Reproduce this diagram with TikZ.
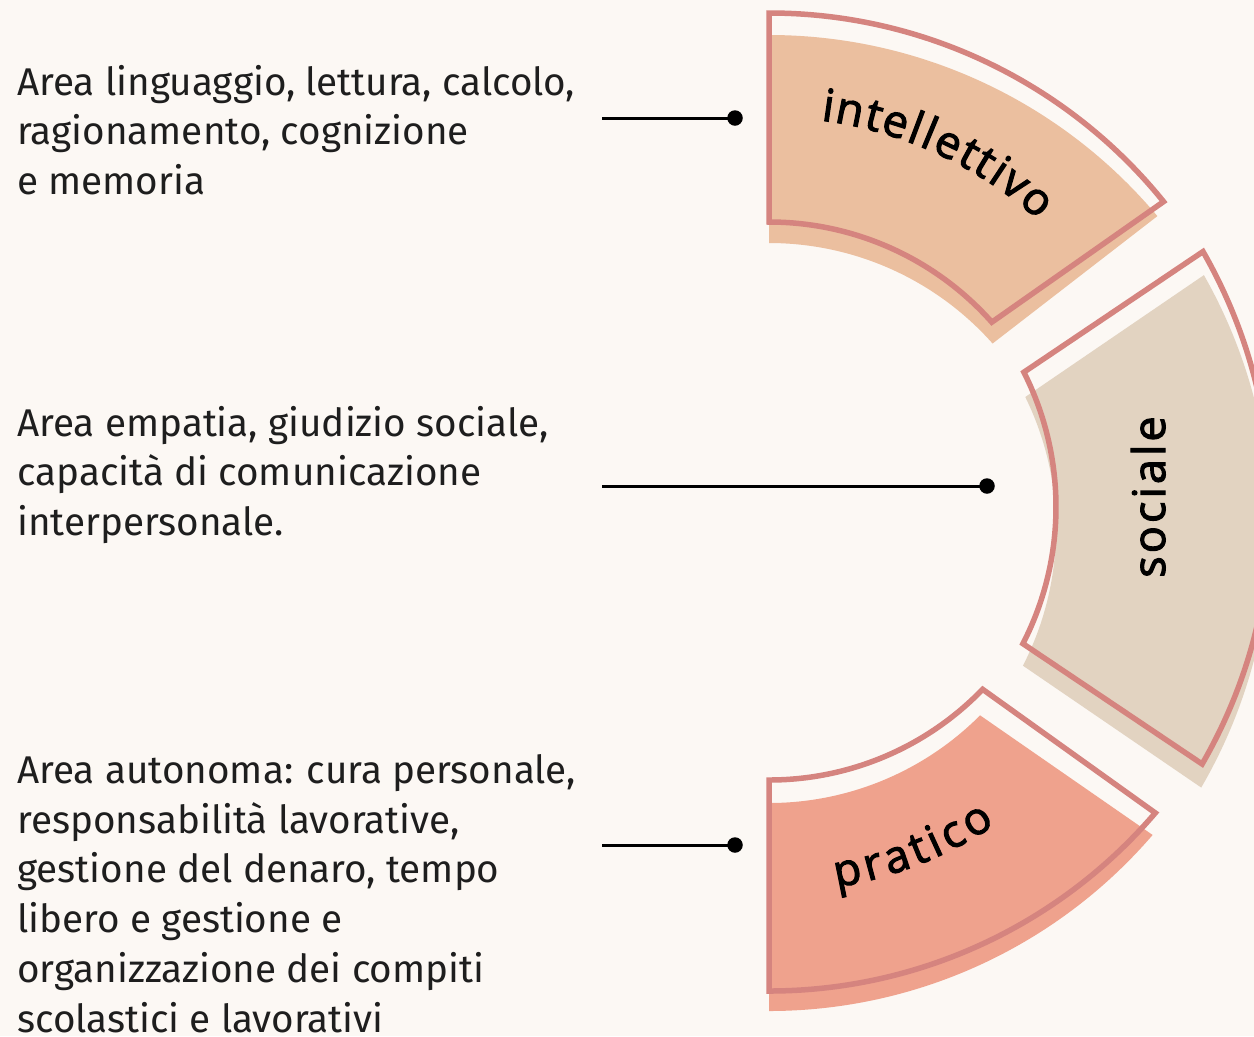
\documentclass[tikz,border=0pt]{standalone}
\usepackage{fontspec}
\setmainfont{Fira Sans}
\newfontfamily\labfont[FakeBold=2.5]{Open Sans}
\usetikzlibrary{calc}
\definecolor{bg}{HTML}{FCF8F4}
\definecolor{rose}{HTML}{D5847F}
\definecolor{intfill}{HTML}{EBBF9F}
\definecolor{socfill}{HTML}{E2D3C1}
\definecolor{prafill}{HTML}{EFA28D}
\definecolor{ink}{HTML}{1E1E1E}
\begin{document}
\begin{tikzpicture}[x=0.02cm,y=-0.02cm,
  outline/.style={draw=rose,line width=0.11cm},
  bodytext/.style={anchor=base west,inner sep=0pt,text=ink,font=\fontsize{22}{28.45}\selectfont},
  conn/.style={draw=black,line width=0.06cm},
  dotnode/.style={circle,fill=black,inner sep=0pt,minimum size=0.31cm},
  lab/.style={inner sep=0pt,anchor=base,text=black,font=\labfont\fontsize{25.5}{25.5}\selectfont}]
\fill[bg] (0,0) rectangle (1254,1036);
\useasboundingbox (0,0) rectangle (1254,1036);

% centres
\coordinate (Ic) at (769,520);
\coordinate (If) at (769,542);
\coordinate (Sc) at (757,507);
\coordinate (Sf) at (757,529);
\coordinate (Pc) at (769,483);
\coordinate (Pf) at (769,505);

% intellettivo
\fill[intfill] ($(If)+(-90:507)$) arc[start angle=-90,end angle=-40,radius=507]
  -- ($(If)+(-41.6:299)$) arc[start angle=-41.6,end angle=-90,radius=299] -- cycle;
\draw[outline] ($(Ic)+(-90:507)$) arc[start angle=-90,end angle=-38.9,radius=507]
  -- ($(Ic)+(-41.6:298)$) arc[start angle=-41.6,end angle=-90,radius=298] -- cycle;

% sociale
\fill[socfill] ($(Sf)+(-29.6:514)$) arc[start angle=-29.6,end angle=30.2,radius=514]
  -- ($(Sf)+(27.2:299)$) arc[start angle=27.2,end angle=-26.2,radius=299] -- cycle;
\draw[outline] ($(Sc)+(-29.8:514)$) arc[start angle=-29.8,end angle=30.0,radius=514]
  -- ($(Sc)+(27.2:299)$) arc[start angle=27.2,end angle=-26.8,radius=299] -- cycle;

% pratico
\fill[prafill] ($(Pf)+(90:298)$) arc[start angle=90,end angle=44.9,radius=298]
  -- ($(Pf)+(40.7:506)$) arc[start angle=40.7,end angle=90,radius=506] -- cycle;
\draw[outline] ($(Pc)+(90:297)$) arc[start angle=90,end angle=44,radius=297]
  -- ($(Pc)+(40.5:508)$) arc[start angle=40.5,end angle=90,radius=508] -- cycle;

% labels
\foreach \ch/\ang [count=\k] in {i/-81.8,n/-78.8,t/-75.4,e/-72.3,l/-69.4,l/-67.4,e/-64.5,t/-61.3,t/-58.8,i/-56.5,v/-53.8,o/-50.0}
  \node[lab,rotate={-1*(\ang)-90}] (int\k) at ($(Ic)+(\ang:403)$) {\ch};
\foreach \ch/\ang [count=\k] in {p/78.6,r/74.8,a/71.2,t/67.8,i/65.3,c/62.4,o/58.4}
  \node[lab,rotate={90-(\ang)}] (pra\k) at ($(Pc)+(\ang:410)$) {\ch};
\node[lab,rotate=90] (soc) at (1165,497) {\addfontfeatures{LetterSpace=7}sociale};

% texts
\node[bodytext] (t1) at (17,95) {\vtop{\hbox{Area linguaggio, lettura, calcolo,}\hbox{ragionamento, cognizione}\hbox{e memoria}}};
\node[bodytext] (t2) at (17,436) {\vtop{\hbox{Area empatia, giudizio sociale,}\hbox{capacità di comunicazione}\hbox{interpersonale.}}};
\node[bodytext] (t3) at (17,783) {\vtop{\hbox{Area autonoma: cura personale,}\hbox{responsabilità lavorative,}\hbox{gestione del denaro, tempo}\hbox{libero e gestione e}\hbox{organizzazione dei compiti}\hbox{scolastici e lavorativi}}};

% connectors
\coordinate (c1) at (602,118);
\coordinate (c2) at (602,486);
\coordinate (c3) at (602,845);
\node[dotnode] (d1) at (735,118) {};
\node[dotnode] (d2) at (987,486) {};
\node[dotnode] (d3) at (735,845) {};
\draw[conn] (c1) -- (d1.center);
\draw[conn] (c2) -- (d2.center);
\draw[conn] (c3) -- (d3.center);
\end{tikzpicture}
\end{document}
